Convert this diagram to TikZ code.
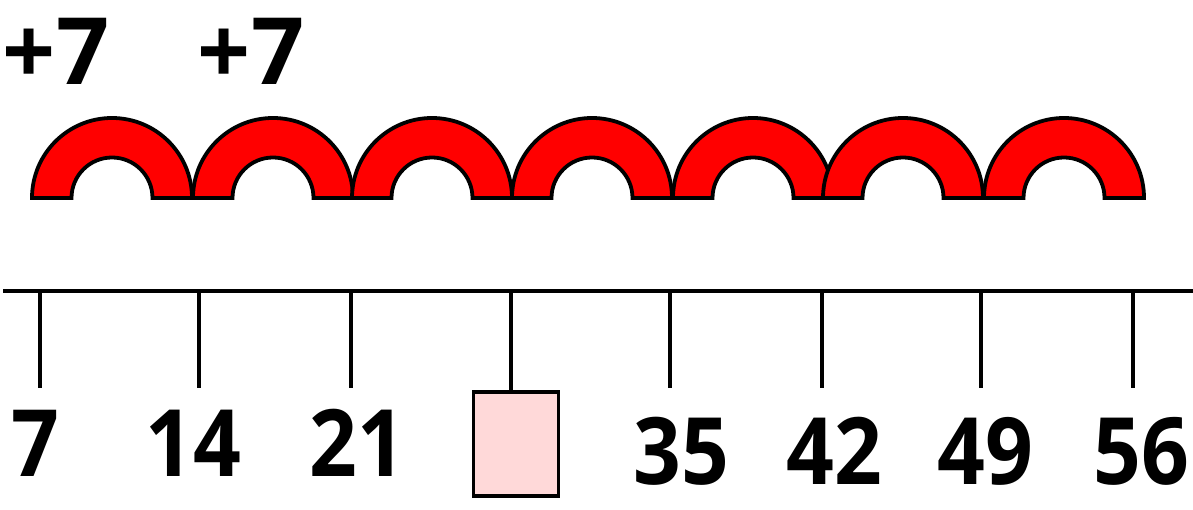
\documentclass[tikz,border=0pt]{standalone}
\usepackage{fontspec}
\setmainfont{Open Sans}[FakeStretch=0.9]
\newfontfamily\plusfont{Open Sans}
\begin{document}
\begin{tikzpicture}[x=1pt,y=1pt,
  hop/.style={draw=black,line width=3.8pt,fill=red,line join=miter},
  axis/.style={draw=black,line width=3.8pt},
  tick/.style={draw=black,line width=3.4pt},
  num/.style={anchor=base,inner sep=0pt,font=\fontsize{93}{93}\selectfont\bfseries},
  jumplabel/.style={anchor=base,inner sep=0pt,font=\fontsize{93}{93}\plusfont\bfseries},
  gapbox/.style={draw=black,line width=3.8pt,fill={rgb,255:red,255;green,217;blue,217},
    minimum width=85pt,minimum height=104.5pt,inner sep=0pt,anchor=north}]
\useasboundingbox (0,0) rectangle (1193,510);
% jumps
\foreach \c/\n in {112/1,273/2,432/3,592/4,753/5,903/6,1064/7}{
  \path[hop] (\c-80,312) arc[start angle=180,end angle=0,radius=80]
    -- (\c+40.5,312) arc[start angle=0,end angle=180,radius=40.5] -- cycle;
}
\node[jumplabel] (p1) at (56,425) {+7};
\node[jumplabel] (p2) at (251,425) {+7};
% number line
\coordinate (L) at (3,219);
\coordinate (R) at (1193,219);
\draw[axis] (L) -- (R);
\foreach \x/\n in {40/1,199/2,351/3,511/4,670/5,822/6,981/7,1133/8}{
  \coordinate (t\n) at (\x,219);
}
\foreach \x/\n in {40/1,199/2,351/3,670/5,822/6,981/7,1133/8}{
  \coordinate (b\n) at (\x,122);
  \draw[tick] (t\n) -- (b\n);
}
\node[gapbox] (box) at (516,120) {};
\draw[tick] (t4) -- (t4 |- box.north);
% labels
\node[num] (n7) at (35,33) {7};
\node[num] (n14) at (193,33) {14};
\node[num] (n21) at (357,33) {21};
\node[num] (n35) at (681,25) {35};
\node[num] (n42) at (834,25) {42};
\node[num] (n49) at (985,25) {49};
\node[num] (n56) at (1141,25) {56};
\end{tikzpicture}
\end{document}
